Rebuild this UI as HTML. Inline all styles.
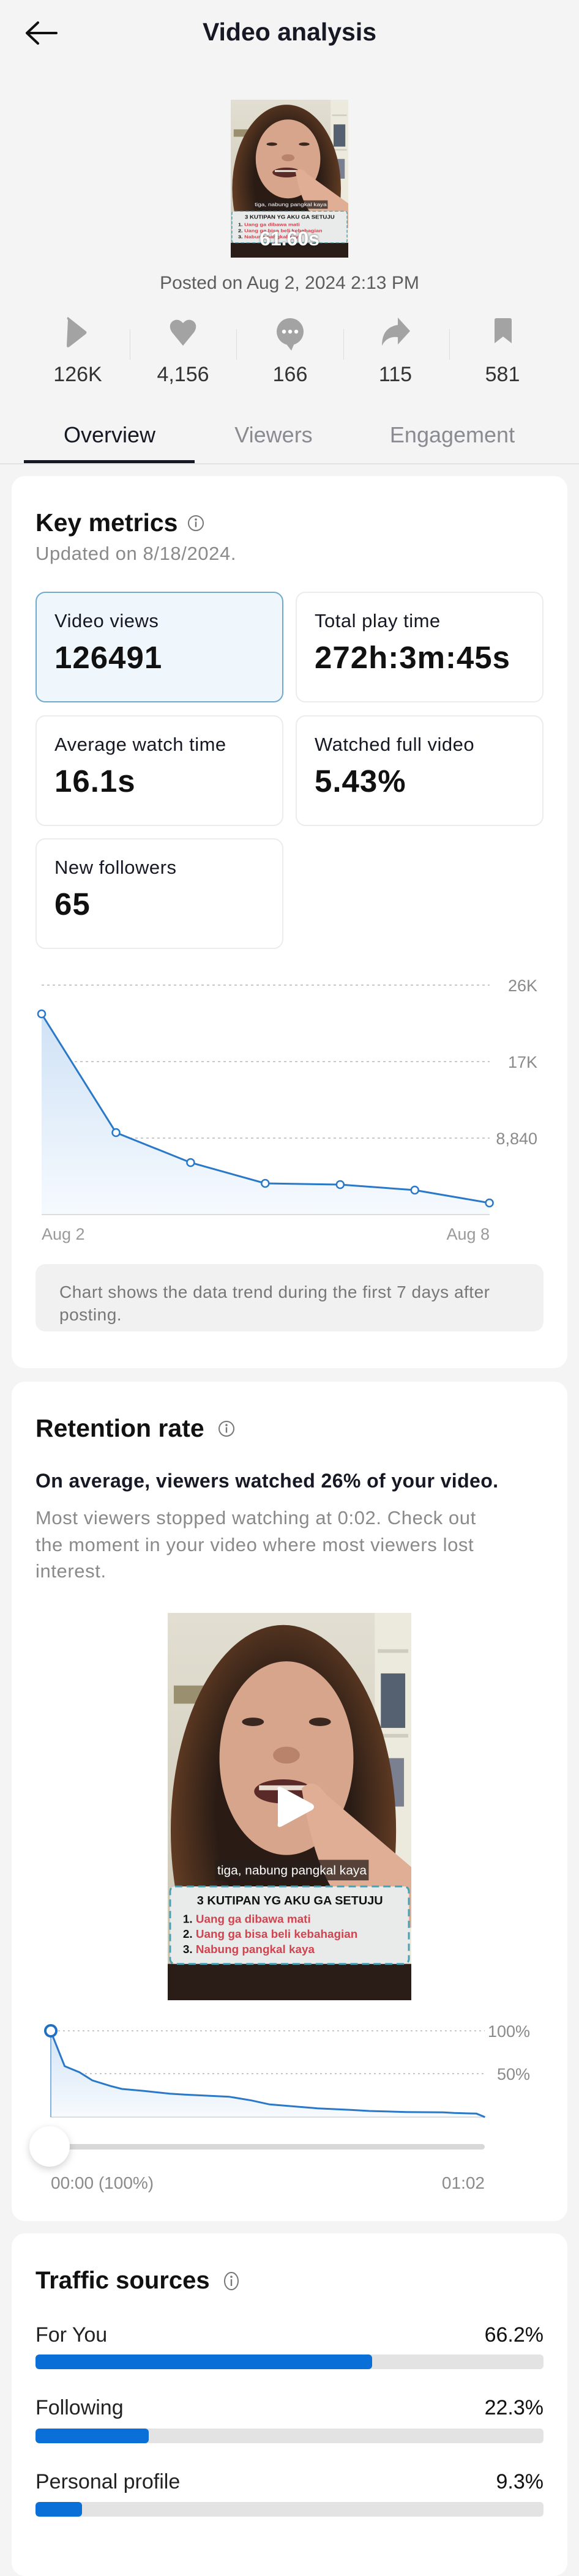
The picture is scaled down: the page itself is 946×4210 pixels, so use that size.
<!DOCTYPE html>
<html><head><meta charset="utf-8">
<style>
*{margin:0;padding:0;box-sizing:border-box}
body{width:946px;height:4160px;background:#f4f4f4;font-family:"Liberation Sans",sans-serif;position:relative;overflow:hidden;color:#161823}
.a{position:absolute;white-space:nowrap}
.card{position:absolute;left:19px;width:908px;background:#fff;border-radius:22px}
.box{position:absolute;width:405px;height:181px;border:2px solid #ececec;border-radius:16px;background:#fff}
.box .l{position:absolute;left:29px;top:28px;font-size:31px;color:#161823;letter-spacing:0.5px}
.box .v{position:absolute;left:29px;top:76px;font-size:51px;font-weight:bold;color:#111;letter-spacing:1px}
.bar{position:absolute;left:58px;width:830px;height:24px;background:#e3e3e3;border-radius:6px;overflow:hidden}
.bar div{height:100%;background:#0a6fd6;border-radius:6px}
</style></head><body>
<svg width="0" height="0" style="position:absolute">
<defs>
<linearGradient id="wall" x1="0" y1="0" x2="0" y2="1"><stop offset="0" stop-color="#e2dfd2"/><stop offset="1" stop-color="#c9c3b0"/></linearGradient>
<radialGradient id="hair" cx="0.5" cy="0.45" r="0.6"><stop offset="0.5" stop-color="#2a1c15"/><stop offset="1" stop-color="#7a4a2a"/></radialGradient>
<symbol id="frame" viewBox="0 0 400 640" preserveAspectRatio="none">
<rect width="400" height="640" fill="url(#wall)"/>
<rect x="340" y="0" width="60" height="640" fill="#ece9dd"/>
<rect x="345" y="60" width="50" height="6" fill="#d0ccc0"/><rect x="345" y="200" width="50" height="6" fill="#d0ccc0"/>
<rect x="350" y="100" width="40" height="90" fill="#556070"/><rect x="352" y="240" width="36" height="80" fill="#7a8090"/>
<rect x="10" y="120" width="50" height="30" fill="#9a9070"/>
<ellipse cx="190" cy="360" rx="185" ry="340" fill="url(#hair)"/>
<ellipse cx="195" cy="240" rx="110" ry="160" fill="#d6a58c"/>
<ellipse cx="140" cy="180" rx="18" ry="7" fill="#3a2820"/><ellipse cx="250" cy="180" rx="18" ry="7" fill="#3a2820"/>
<ellipse cx="195" cy="235" rx="22" ry="14" fill="#b9836b"/>
<ellipse cx="190" cy="295" rx="48" ry="20" fill="#5a2a28"/><rect x="150" y="285" width="80" height="8" fill="#e8dcd0"/>
<path d="M220 290 Q240 270 260 300 L400 420 L400 520 Q330 520 280 470 Q240 420 220 290Z" fill="#dfae95"/>
<rect x="0" y="580" width="400" height="60" fill="#2a1d18"/>
<rect x="78" y="408" width="252" height="34" fill="rgba(40,30,25,0.75)"/>
<text x="204" y="432" font-family="Liberation Sans,sans-serif" font-size="21" fill="#fff" text-anchor="middle">tiga, nabung pangkal kaya</text>
<rect x="4" y="452" width="392" height="128" rx="8" fill="#e9ebea" stroke="#4a9fb0" stroke-width="3" stroke-dasharray="12 7"/>
<text x="48" y="482" font-family="Liberation Sans,sans-serif" font-weight="bold" font-size="20" fill="#111">3 KUTIPAN YG AKU GA SETUJU</text>
<text x="25" y="512" font-family="Liberation Sans,sans-serif" font-weight="bold" font-size="19" fill="#111">1. <tspan fill="#d04450">Uang ga dibawa mati</tspan></text>
<text x="25" y="537" font-family="Liberation Sans,sans-serif" font-weight="bold" font-size="19" fill="#111">2. <tspan fill="#d04450">Uang ga bisa beli kebahagian</tspan></text>
<text x="25" y="562" font-family="Liberation Sans,sans-serif" font-weight="bold" font-size="19" fill="#111">3. <tspan fill="#d04450">Nabung pangkal kaya</tspan></text>
</symbol>
</defs></svg>

<!-- header -->
<svg class="a" style="left:40px;top:34px" width="56" height="40"><path d="M4 20 H52 M4 20 L22 3 M4 20 L22 37" stroke="#111" stroke-width="4" fill="none" stroke-linecap="round"/></svg>
<div class="a" style="left:0;width:946px;text-align:center;top:28px;font-size:41px;font-weight:bold;line-height:48px">Video analysis</div>

<svg class="a" style="left:377px;top:163px" width="192" height="258"><use href="#frame" width="192" height="258"/></svg>
<div class="a" style="left:377px;width:192px;text-align:center;top:370px;font-size:32px;font-weight:bold;color:#fff;line-height:40px;text-shadow:0 0 3px rgba(0,0,0,.6)">61.60s</div>

<div class="a" style="left:0;width:946px;text-align:center;top:445px;font-size:30px;color:#5c5c5c;line-height:36px">Posted on Aug 2, 2024 2:13 PM</div>

<!-- stat icons -->
<svg class="a" style="left:0;top:515px" width="946" height="60">
<path d="M111 8 Q108 5 111 3 L140 26 Q143 28 140 31 L113 52 Q109 54 109 50 Z" fill="#a3a3a3"/>
<path d="M299 50 L281 28 Q274 17 282 10 Q291 4 299 13 Q307 4 316 10 Q324 17 317 28 Z" fill="#a3a3a3"/>
<circle cx="474" cy="27" r="22" fill="#a3a3a3"/><path d="M466 45 L476 58 L482 44Z" fill="#a3a3a3"/>
<circle cx="464" cy="27" r="3.2" fill="#fff"/><circle cx="474" cy="27" r="3.2" fill="#fff"/><circle cx="484" cy="27" r="3.2" fill="#fff"/>
<path d="M650 4 L670 26 L650 48 L650 36 Q632 34 624 50 Q624 20 650 16 Z" fill="#a3a3a3"/>
<path d="M808 8 Q808 5 811 5 L833 5 Q836 5 836 8 L836 46 L822 35 L808 46 Z" fill="#a3a3a3"/>
</svg>
<div class="a" style="left:212px;top:538px;width:1px;height:50px;background:#ddd"></div>
<div class="a" style="left:386px;top:538px;width:1px;height:50px;background:#ddd"></div>
<div class="a" style="left:561px;top:538px;width:1px;height:50px;background:#ddd"></div>
<div class="a" style="left:734px;top:538px;width:1px;height:50px;background:#ddd"></div>
<div class="a" style="left:47px;width:160px;text-align:center;top:592px;font-size:34px;color:#333;line-height:40px">126K</div>
<div class="a" style="left:219px;width:160px;text-align:center;top:592px;font-size:34px;color:#333;line-height:40px">4,156</div>
<div class="a" style="left:394px;width:160px;text-align:center;top:592px;font-size:34px;color:#333;line-height:40px">166</div>
<div class="a" style="left:566px;width:160px;text-align:center;top:592px;font-size:34px;color:#333;line-height:40px">115</div>
<div class="a" style="left:741px;width:160px;text-align:center;top:592px;font-size:34px;color:#333;line-height:40px">581</div>

<!-- tabs -->
<div class="a" style="left:79px;width:200px;text-align:center;top:690px;font-size:36px;color:#161823;line-height:42px">Overview</div>
<div class="a" style="left:347px;width:200px;text-align:center;top:690px;font-size:36px;color:#8a8b91;line-height:42px">Viewers</div>
<div class="a" style="left:609px;width:260px;text-align:center;top:690px;font-size:36px;color:#8a8b91;line-height:42px">Engagement</div>
<div class="a" style="left:0;top:757px;width:946px;height:2px;background:#e2e2e2"></div>
<div class="a" style="left:39px;top:752px;width:279px;height:5px;background:#161823"></div>

<!-- card 1 -->
<div class="card" style="top:778px;height:1458px"></div>
<div class="a" style="left:58px;top:830px;font-size:41px;font-weight:bold;line-height:48px;color:#111">Key metrics</div>
<svg class="a" style="left:305px;top:840px" width="30" height="30"><circle cx="15" cy="15" r="12" fill="none" stroke="#777" stroke-width="2"/><circle cx="15" cy="9" r="1.8" fill="#777"/><rect x="13.8" y="12.5" width="2.4" height="9" fill="#777"/></svg>
<div class="a" style="left:58px;top:886px;font-size:31px;color:#8a8a8a;line-height:38px;letter-spacing:0.6px">Updated on 8/18/2024.</div>

<div class="box" style="left:58px;top:967px;background:#f0f7fc;border-color:#6fa9cc"><div class="l">Video views</div><div class="v">126491</div></div>
<div class="box" style="left:483px;top:967px"><div class="l">Total play time</div><div class="v">272h:3m:45s</div></div>
<div class="box" style="left:58px;top:1169px"><div class="l">Average watch time</div><div class="v">16.1s</div></div>
<div class="box" style="left:483px;top:1169px"><div class="l">Watched full video</div><div class="v">5.43%</div></div>
<div class="box" style="left:58px;top:1370px"><div class="l">New followers</div><div class="v">65</div></div>

<svg class="a" style="left:0;top:1580px" width="946" height="460">
<defs><linearGradient id="g1" x1="0" y1="0" x2="0" y2="1"><stop offset="0" stop-color="#cfe2f6"/><stop offset="1" stop-color="#f6fafe"/></linearGradient></defs>
<g stroke="#c8c8c8" stroke-width="2" stroke-dasharray="4 5">
<line x1="68" y1="30" x2="800" y2="30"/><line x1="68" y1="155" x2="800" y2="155"/><line x1="68" y1="280" x2="800" y2="280"/></g>
<polygon points="68,77 189.5,271 311.4,320 433.3,354 555.8,356 677.7,365 799.6,386 799.6,405 68,405" fill="url(#g1)"/>
<line x1="68" y1="405" x2="800" y2="405" stroke="#ddd" stroke-width="2"/>
<polyline points="68,77 189.5,271 311.4,320 433.3,354 555.8,356 677.7,365 799.6,386" fill="none" stroke="#2a78c8" stroke-width="3"/>
<g fill="#fff" stroke="#2a78c8" stroke-width="2.5">
<circle cx="68" cy="77" r="6"/><circle cx="189.5" cy="271" r="6"/><circle cx="311.4" cy="320" r="6"/><circle cx="433.3" cy="354" r="6"/><circle cx="555.8" cy="356" r="6"/><circle cx="677.7" cy="365" r="6"/><circle cx="799.6" cy="386" r="6"/></g>
<g font-family="Liberation Sans,sans-serif" font-size="27" fill="#8a8a8a" text-anchor="end">
<text x="878" y="40">26K</text><text x="878" y="165">17K</text><text x="878" y="290">8,840</text></g>
<g font-family="Liberation Sans,sans-serif" font-size="27" fill="#9a9a9a">
<text x="68" y="446">Aug 2</text><text x="800" y="446" text-anchor="end">Aug 8</text></g>
</svg>

<div class="a" style="left:58px;top:2066px;width:830px;height:110px;background:#f1f1f1;border-radius:16px"></div>
<div class="a" style="left:97px;top:2093px;font-size:28px;color:#777;line-height:37px;white-space:normal;width:760px;letter-spacing:0.5px">Chart shows the data trend during the first 7 days after posting.</div>

<!-- card 2 -->
<div class="card" style="top:2258px;height:1372px"></div>
<div class="a" style="left:58px;top:2310px;font-size:41px;font-weight:bold;line-height:48px;color:#111">Retention rate</div>
<svg class="a" style="left:355px;top:2320px" width="30" height="30"><circle cx="15" cy="15" r="12" fill="none" stroke="#777" stroke-width="2"/><circle cx="15" cy="9" r="1.8" fill="#777"/><rect x="13.8" y="12.5" width="2.4" height="9" fill="#777"/></svg>
<div class="a" style="left:58px;top:2400px;font-size:32px;font-weight:bold;line-height:40px;color:#161823;letter-spacing:0.4px">On average, viewers watched 26% of your video.</div>
<div class="a" style="left:58px;top:2459px;font-size:31px;line-height:43.5px;color:#8a8a8a;white-space:normal;width:805px;letter-spacing:0.6px">Most viewers stopped watching at 0:02. Check out<br>the moment in your video where most viewers lost<br>interest.</div>

<svg class="a" style="left:274px;top:2636px" width="398" height="633"><use href="#frame" width="398" height="633"/>
<path d="M180 290 Q178 282 186 285 L236 312 Q242 317 236 322 L186 349 Q178 352 180 344 Z" fill="#fff"/></svg>

<svg class="a" style="left:0;top:3290px" width="946" height="300">
<defs><linearGradient id="g2" x1="0" y1="0" x2="0" y2="1"><stop offset="0" stop-color="#d3e5f7"/><stop offset="1" stop-color="#f7fafd"/></linearGradient></defs>
<g stroke="#c8c8c8" stroke-width="2" stroke-dasharray="3 5">
<line x1="95" y1="29" x2="792" y2="29"/><line x1="83" y1="99" x2="792" y2="99"/></g>
<polygon points="82.7,29 105.6,86.7 129.8,96.7 150.9,110 181,119.3 199.2,124 235.4,127.3 277.6,131.7 301.8,133.3 338,135 374.2,136.7 410.4,142.7 440.6,149.3 482.8,152.7 519,155.7 573.3,158.3 603.5,160 663.8,161.7 724.2,162.3 742.3,163.3 778.5,164.3 792.4,170 82.7,170" fill="url(#g2)"/>
<line x1="83" y1="170" x2="792" y2="170" stroke="#ddd" stroke-width="2"/>
<line x1="83" y1="29" x2="83" y2="170" stroke="#5b9bd8" stroke-width="1.5"/>
<polyline points="82.7,29 105.6,86.7 129.8,96.7 150.9,110 181,119.3 199.2,124 235.4,127.3 277.6,131.7 301.8,133.3 338,135 374.2,136.7 410.4,142.7 440.6,149.3 482.8,152.7 519,155.7 573.3,158.3 603.5,160 663.8,161.7 724.2,162.3 742.3,163.3 778.5,164.3 792.4,170" fill="none" stroke="#2a78c8" stroke-width="3"/>
<circle cx="83" cy="29" r="9" fill="#fff" stroke="#1f6fc4" stroke-width="4"/>
<g font-family="Liberation Sans,sans-serif" font-size="27" fill="#8a8a8a" text-anchor="end">
<text x="866" y="39">100%</text><text x="866" y="109">50%</text></g>
<rect x="83" y="214" width="709" height="9" rx="4.5" fill="#d8d8d8"/>
<circle cx="81" cy="218" r="33" fill="#fff" style="filter:drop-shadow(0 4px 6px rgba(0,0,0,.18))"/>
<g font-family="Liberation Sans,sans-serif" font-size="28" fill="#8a8a8a">
<text x="83" y="287">00:00 (100%)</text><text x="792" y="287" text-anchor="end">01:02</text></g>
</svg>

<!-- card 3 -->
<div class="card" style="top:3650px;height:560px"></div>
<div class="a" style="left:58px;top:3703px;font-size:40px;font-weight:bold;line-height:48px;color:#111">Traffic sources</div>
<svg class="a" style="left:363px;top:3711px" width="30" height="34"><ellipse cx="15" cy="17" rx="11" ry="14" fill="none" stroke="#777" stroke-width="2"/><circle cx="15" cy="10" r="1.8" fill="#777"/><rect x="13.8" y="14" width="2.4" height="11" fill="#777"/></svg>

<div class="a" style="left:58px;top:3796px;font-size:34px;line-height:40px;color:#222">For You</div>
<div class="a" style="right:58px;top:3796px;font-size:34px;line-height:40px;color:#111">66.2%</div>
<div class="bar" style="top:3848px"><div style="width:550px"></div></div>
<div class="a" style="left:58px;top:3915px;font-size:34px;line-height:40px;color:#222">Following</div>
<div class="a" style="right:58px;top:3915px;font-size:34px;line-height:40px;color:#111">22.3%</div>
<div class="bar" style="top:3969px"><div style="width:185px"></div></div>
<div class="a" style="left:58px;top:4036px;font-size:34px;line-height:40px;color:#222">Personal profile</div>
<div class="a" style="right:58px;top:4036px;font-size:34px;line-height:40px;color:#111">9.3%</div>
<div class="bar" style="top:4089px"><div style="width:76px"></div></div>
</body></html>
